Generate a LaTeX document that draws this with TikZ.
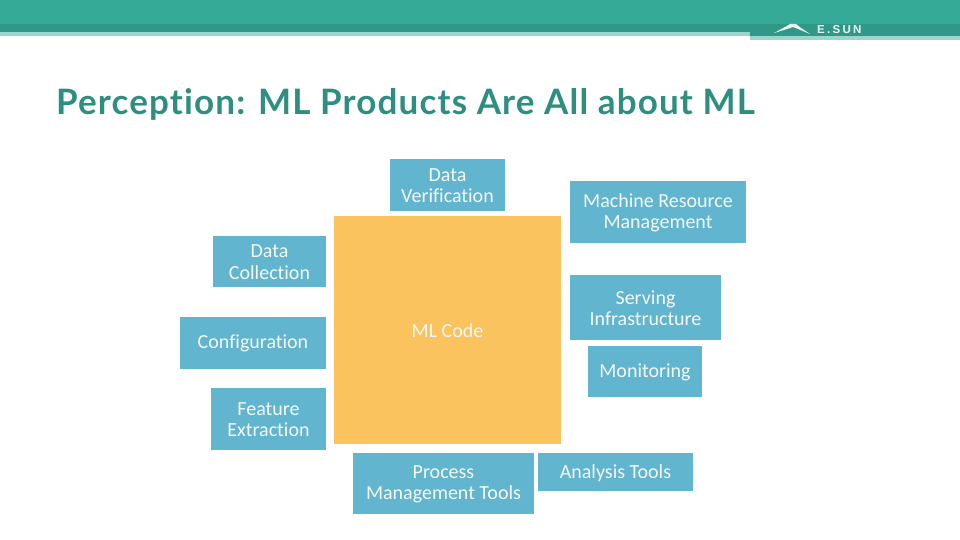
\documentclass[tikz,border=0pt]{standalone}
\usepackage{fontspec}
\setmainfont[Ligatures=NoCommon]{Carlito}
\newfontfamily\titlefont[LetterSpace=3.25,Ligatures=NoCommon]{Lato Bold}
\newfontfamily\logofont[LetterSpace=20]{Liberation Sans Bold}
\usetikzlibrary{positioning}
\definecolor{bandteal}{HTML}{35AA96}
\definecolor{banddark}{HTML}{2F9886}
\definecolor{bandlight}{HTML}{9AD6CC}
\definecolor{titleteal}{HTML}{2E8F80}
\definecolor{boxblue}{HTML}{62B5CF}
\definecolor{codeorange}{HTML}{FBC35E}
\definecolor{boxtext}{HTML}{F4F8F4}
\tikzset{
  taskbox/.style={rectangle, fill=boxblue, inner sep=0pt},
  tasktext/.style={text=boxtext, align=center, inner sep=0pt,
    font=\fontsize{20}{21.5}\selectfont},
}
\begin{document}
\begin{tikzpicture}[x=1pt, y=-1pt]
    \useasboundingbox (0,0) rectangle (960,540);
    % Bandeau
    \fill[bandteal] (0,0) rectangle (960,24);
    \fill[banddark] (0,24) rectangle (960,32);
    \fill[bandlight] (0,32) rectangle (750,36);
    \fill[banddark] (750,32) rectangle (960,36);
    \fill[bandlight] (750,36) rectangle (960,40);
    % Logo
    \fill[white!90!bandteal] (774,33) -- (785,27) -- (790,24) -- (796,24) -- (801,28) -- (810,34)
        -- (798,29) -- (793,27) -- (787,29) -- cycle;
    \node[text=white!90!bandteal, anchor=west, inner sep=0pt, font=\logofont\fontsize{11.5}{12}\selectfont] (logo) at (817,29.5) {E.SUN};
    % Titre
    \node[text=titleteal, anchor=west, inner sep=0pt, font=\titlefont\fontsize{35}{38}\selectfont] (title) at (56,104) {Perception: ML Products Are All about ML};
    % Code
    \node[rectangle, fill=codeorange, inner sep=0pt, minimum width=227pt, minimum height=228pt] (code) at (447.5,330) {};
    \node[tasktext] (code text) at ([yshift=-1pt]code) {ML Code};
    % Boites
    \foreach \x/\y/\w/\h/\name/\label in {
        447.5/185/115/52/verification/{Data\\Verification},
        658/212/176/62/resource/{Machine Resource\\Management},
        269.5/261.5/113/51/collection/{Data\\Collection},
        645.5/307.5/151/65/serving/{Serving\\Infrastructure},
        253/343/146/52/configuration/{Configuration},
        645/371.5/114/51/monitoring/{Monitoring},
        268.5/419/115/62/extraction/{Feature\\Extraction},
        443.5/483.5/181/61/process/{Process\\Management Tools},
        615.5/472/155/38/analysis/{Analysis Tools}} {
        \node[taskbox, minimum width=\w pt, minimum height=\h pt] (\name) at (\x,\y) {};
        \node[tasktext] (\name text) at ([yshift=-0.8pt]\name) {\label};
    }
\end{tikzpicture}
\end{document}
